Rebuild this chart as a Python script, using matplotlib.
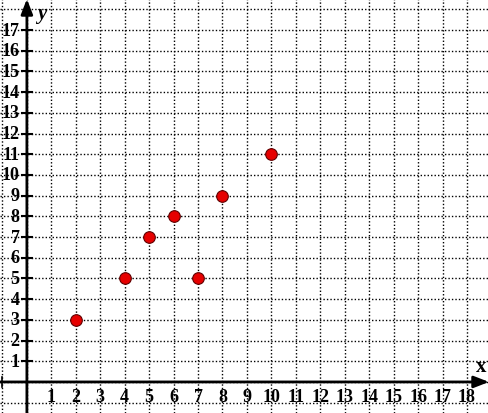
import matplotlib.pyplot as plt
import numpy as np

xs = [2, 4, 5, 6, 7, 8, 10]
ys = [3, 5, 7, 8, 5, 9, 11]

x_ticks = list(range(1, 19))
y_ticks = list(range(1, 18))

fig = plt.figure(figsize=(4.89, 4.14), dpi=100)
ax = fig.add_axes([0, 0, 1, 1])
ax.set_xlim(-1.1, 18.9)
ax.set_ylim(-1.5, 18.5)

# dotted grid
for gx in range(-1, 19):
    ax.axvline(gx, color='black', linestyle=(0, (1, 1.5)), linewidth=1, zorder=1)
for gy in range(-1, 19):
    ax.axhline(gy, color='black', linestyle=(0, (1, 1.5)), linewidth=1, zorder=1)

# axes with arrows
arrow = dict(arrowstyle='-|>,head_length=0.9,head_width=0.35', color='black',
             lw=2, shrinkA=0, shrinkB=0)
ax.annotate('', xy=(18.9, 0), xytext=(-1.1, 0), arrowprops=arrow,
            annotation_clip=False, zorder=3)
ax.annotate('', xy=(0, 18.5), xytext=(0, -1.5), arrowprops=arrow,
            annotation_clip=False, zorder=3)

font = dict(family='Liberation Serif', weight='bold', size=13)
for t in x_ticks:
    ax.text(t, -0.3, str(t), ha='center', va='top', fontdict=font)
for t in y_ticks:
    ax.plot([-0.22, 0.22], [t, t], color='black', lw=1.5, zorder=3)
    ax.text(-0.3, t, str(t), ha='right', va='center', fontdict=font)
ax.plot([-1, -1], [-0.25, 0.25], color='black', lw=1.2, zorder=3)

ax.text(18.57, 0.75, 'x', ha='center', va='center',
        fontdict=dict(family='Liberation Serif', weight='bold', size=15))
ax.text(0.6, 17.8, 'y', ha='center', va='center', style='italic',
        fontdict=dict(family='Liberation Serif', weight='bold', size=15))

ax.scatter(xs, ys, s=70, color='#e60000', edgecolor='#600000', linewidth=0.8, zorder=4)

ax.axis('off')
fig.savefig('out.png', dpi=100)
